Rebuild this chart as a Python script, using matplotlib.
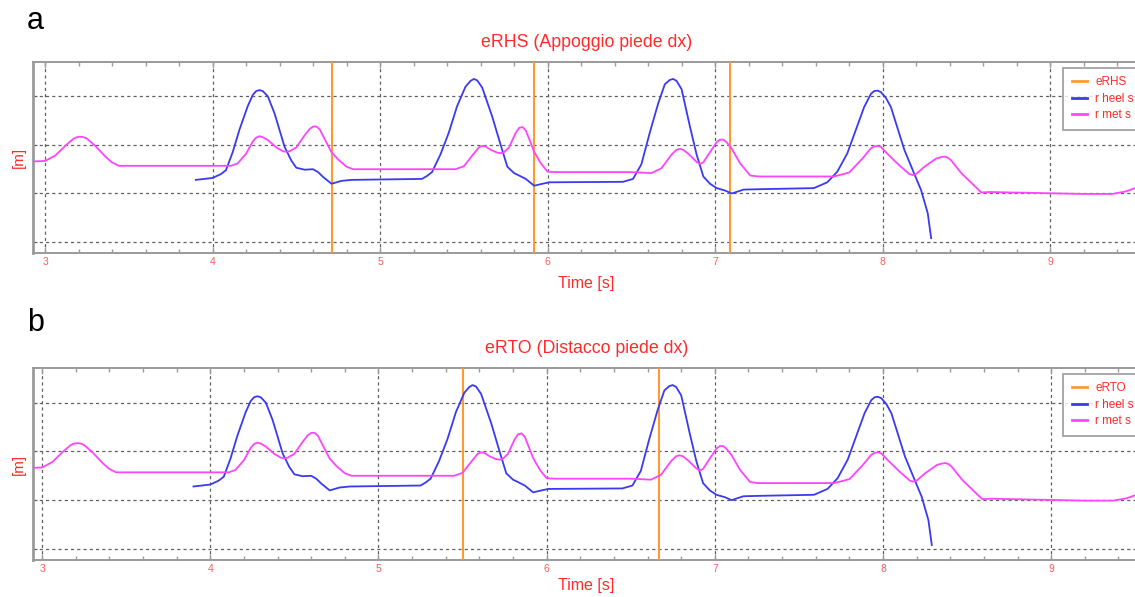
import numpy as np
import matplotlib
matplotlib.use("Agg")
import matplotlib.pyplot as plt
from matplotlib.ticker import MultipleLocator

# time [s] and value (arbitrary units, grid lines at 0..3)
met_t = [2.93, 3.00, 3.06, 3.12, 3.17, 3.19, 3.21, 3.23, 3.25, 3.30, 3.36,
         3.40, 3.44, 4.11, 4.15, 4.20, 4.24, 4.26, 4.28, 4.30, 4.33, 4.38,
         4.42, 4.44, 4.46, 4.50, 4.55, 4.58, 4.60, 4.62, 4.64, 4.68, 4.71,
         4.75, 4.80, 4.84, 5.45, 5.50, 5.55, 5.59, 5.61, 5.63, 5.66, 5.70,
         5.72, 5.74, 5.77, 5.81, 5.83, 5.85, 5.87, 5.92, 5.96, 6.00, 6.05,
         6.50, 6.62, 6.68, 6.74, 6.77, 6.79, 6.81, 6.84, 6.89, 6.91, 6.93,
         6.96, 7.01, 7.03, 7.05, 7.07, 7.10, 7.15, 7.21, 7.26, 7.71, 7.80,
         7.88, 7.93, 7.95, 7.97, 7.99, 8.02, 8.10, 8.16, 8.18, 8.20, 8.25,
         8.32, 8.35, 8.37, 8.39, 8.41, 8.47, 8.53, 8.59, 8.64, 9.20, 9.37,
         9.45, 9.50, 9.54]
met_y = [1.66, 1.67, 1.78, 1.98, 2.13, 2.16, 2.17, 2.16, 2.13, 1.98, 1.76,
         1.64, 1.57, 1.57, 1.62, 1.82, 2.07, 2.15, 2.18, 2.16, 2.10, 1.95,
         1.87, 1.86, 1.87, 1.95, 2.20, 2.33, 2.38, 2.38, 2.32, 2.05, 1.85,
         1.70, 1.55, 1.50, 1.50, 1.56, 1.78, 1.95, 1.98, 1.97, 1.90, 1.84,
         1.83, 1.85, 1.95, 2.25, 2.35, 2.37, 2.30, 1.86, 1.62, 1.45, 1.44,
         1.44, 1.42, 1.52, 1.80, 1.90, 1.92, 1.90, 1.82, 1.65, 1.61, 1.64,
         1.80, 2.06, 2.11, 2.11, 2.05, 1.92, 1.62, 1.37, 1.35, 1.35, 1.43,
         1.72, 1.93, 1.97, 1.98, 1.96, 1.85, 1.58, 1.40, 1.38, 1.40, 1.55,
         1.72, 1.75, 1.76, 1.74, 1.68, 1.42, 1.22, 1.02, 1.03, 0.99, 0.99,
         1.04, 1.10, 1.17]

heel_t = [3.90, 4.00, 4.05, 4.08, 4.12, 4.16, 4.21, 4.24, 4.26, 4.28, 4.30,
          4.33, 4.37, 4.43, 4.47, 4.50, 4.55, 4.60, 4.63, 4.66, 4.71, 4.77,
          4.83, 5.25, 5.28, 5.31, 5.36, 5.41, 5.46, 5.51, 5.54, 5.56, 5.58,
          5.61, 5.67, 5.72, 5.76, 5.80, 5.83, 5.87, 5.92, 5.97, 6.01, 6.45,
          6.51, 6.56, 6.61, 6.66, 6.70, 6.73, 6.75, 6.77, 6.80, 6.85, 6.89,
          6.93, 6.97, 7.01, 7.06, 7.10, 7.17, 7.29, 7.59, 7.67, 7.73, 7.79,
          7.85, 7.89, 7.93, 7.95, 7.97, 7.99, 8.02, 8.05, 8.13, 8.19, 8.23,
          8.27, 8.29]
heel_y = [1.28, 1.32, 1.40, 1.48, 1.85, 2.31, 2.80, 3.03, 3.11, 3.13, 3.11,
          3.00, 2.65, 1.96, 1.68, 1.53, 1.49, 1.50, 1.44, 1.34, 1.20, 1.26,
          1.28, 1.30, 1.36, 1.44, 1.80, 2.25, 2.80, 3.20, 3.32, 3.36, 3.33,
          3.18, 2.58, 2.00, 1.55, 1.42, 1.37, 1.30, 1.16, 1.20, 1.23, 1.24,
          1.30, 1.60, 2.25, 2.85, 3.25, 3.34, 3.36, 3.32, 3.15, 2.38, 1.80,
          1.35, 1.20, 1.11, 1.06, 1.00, 1.08, 1.09, 1.11, 1.23, 1.45, 1.83,
          2.40, 2.78, 3.05, 3.11, 3.12, 3.09, 2.97, 2.78, 1.90, 1.40, 1.07,
          0.59, 0.08]

# event times
erhs_t = [4.71, 5.92, 7.09]
erto_t = [5.50, 6.67]

panels = [
    # letter, title, event name, events, axes rect, xlim, letter baseline, xlabel pad
    ("a", "eRHS (Appoggio piede dx)", "eRHS", erhs_t,
     [0.0291, 0.5762, 0.975, 0.320], (2.928, 9.535), 0.951, 6.5),
    ("b", "eRTO (Distacco piede dx)", "eRTO", erto_t,
     [0.0291, 0.0620, 0.975, 0.3216], (2.946, 9.526), 0.445, 3.0),
]

RED = "#ff2a2a"
TICK_RED = "#ff5a5a"
ORANGE = "#ff9a33"
BLUE = "#3a3af0"
MAGENTA = "#ff44ff"
FRAME = "#9a9a9a"

plt.rcParams["font.family"] = ["Liberation Sans", "DejaVu Sans"]

fig = plt.figure(figsize=(11.35, 5.97), dpi=100)

for letter, title, ev_name, events, rect, xlim, ly, xpad in panels:
    ax = fig.add_axes(rect)
    for i, t in enumerate(events):
        ax.axvline(t, color=ORANGE, lw=1.5, label=ev_name if i == 0 else None,
                   zorder=3)
    ax.plot(heel_t, heel_y, color=BLUE, lw=1.3, label="r heel s", zorder=4)
    ax.plot(met_t, met_y, color=MAGENTA, lw=1.3, label="r met s", zorder=4)

    ax.set_xlim(*xlim)
    ax.set_ylim(-0.227, 3.71)
    ax.set_xticks(np.arange(3, 10))
    ax.xaxis.set_minor_locator(MultipleLocator(0.2))
    ax.set_yticks([0, 1, 2, 3])
    ax.set_yticklabels([])
    ax.grid(True, which="major", color="#606060", lw=0.9,
            linestyle=(0, (2.5, 2.5)))
    ax.tick_params(axis="x", which="both", direction="in", top=True,
                   colors=FRAME, labelcolor=TICK_RED, labelsize=7.5, pad=3)
    ax.tick_params(axis="x", which="major", length=4, width=1)
    ax.tick_params(axis="x", which="minor", length=3, width=1)
    ax.tick_params(axis="y", direction="in", length=3, colors="#606060")
    for s in ax.spines.values():
        s.set_color(FRAME)
        s.set_linewidth(1.4)
    ax.spines["left"].set_linewidth(2.0)

    ax.set_title(title, color=RED, fontsize=12.8, pad=11)
    ax.set_xlabel("Time [s]", color=RED, fontsize=11.5, labelpad=xpad)
    ax.set_ylabel("[m]", color=RED, fontsize=11, labelpad=2)

    leg = ax.legend(loc="upper left", bbox_to_anchor=(0.931, 0.97),
                    fontsize=8.5, frameon=True, fancybox=False,
                    handlelength=1.3, handletextpad=0.7, labelspacing=0.4,
                    borderpad=0.7, borderaxespad=0)
    leg.get_frame().set_edgecolor("#808080")
    leg.get_frame().set_linewidth(1.2)
    for txt in leg.get_texts():
        txt.set_color(RED)
    for ln in leg.get_lines():
        ln.set_linewidth(2.0)

    fig.text(0.024, ly, letter, fontsize=22, color="black",
             ha="left", va="baseline")

fig.savefig("out.png", dpi=100)
